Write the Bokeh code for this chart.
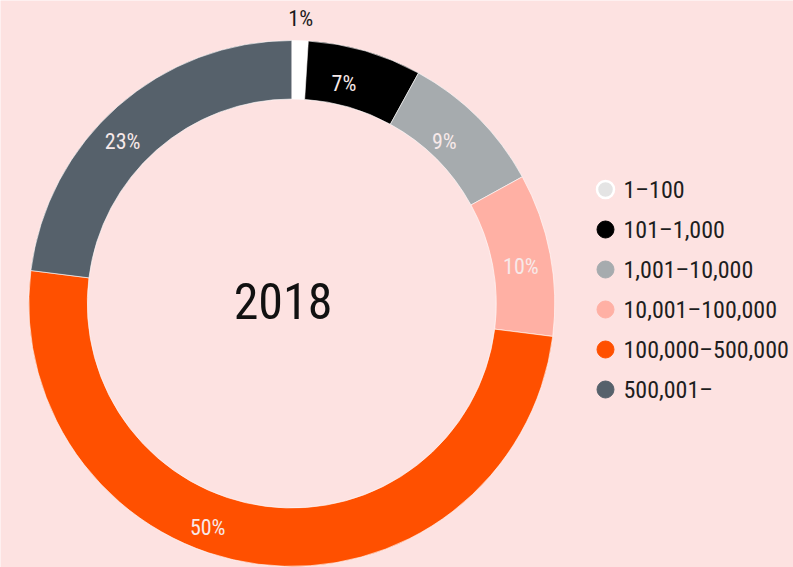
import math
from bokeh.plotting import figure
from bokeh.models import Range1d, ColumnDataSource
from bokeh.core.properties import value
from bokeh.embed import file_html
from bokeh.resources import INLINE

# ---- data ----
categories = ["1–100", "101–1,000", "1,001–10,000", "10,001–100,000", "100,000–500,000", "500,001–"]
shares = [1, 7, 9, 10, 50, 23]
slice_colors = ["#ffffff", "#000000", "#a6abae", "#ffb0a4", "#ff5000", "#56616b"]
legend_colors = ["#e4e4e4", "#000000", "#a6abae", "#ffb0a4", "#ff5000", "#56616b"]
center_title = "2018"

# ---- style / layout ----
BG = "#fde2e1"
W, H = 793, 567
CX, CY = 291.3, 264.0
R_OUT, R_IN = 263.0, 204.5
LABEL_R = 232.0
label_nudge_deg = [0, -2.85, -1.7, 1.7, 13.4, -4.9]
label_nudge_r = [0, -6, -9.5, 0, 7, 2]
FONT = "'Roboto Condensed', 'DejaVu Sans Condensed', sans-serif"

p = figure(width=W, height=H, output_backend="svg", toolbar_location=None,
           x_range=Range1d(0, W), y_range=Range1d(0, H), min_border=0)
p.axis.visible = False
p.grid.visible = False
p.outline_line_color = None
p.background_fill_color = BG
p.border_fill_color = BG

total = float(sum(shares))
starts, ends, mids = [], [], []
cum = 0.0
for s in shares:
    a0 = cum / total * 2 * math.pi
    cum += s
    a1 = cum / total * 2 * math.pi
    # clockwise from 12 o'clock -> convert to math angles
    starts.append(math.pi / 2 - a1)
    ends.append(math.pi / 2 - a0)
    mids.append((a0 + a1) / 2)

src = ColumnDataSource(dict(start=starts, end=ends, color=slice_colors))
p.annular_wedge(x=CX, y=CY, inner_radius=R_IN, outer_radius=R_OUT,
                start_angle="start", end_angle="end", direction="anticlock",
                fill_color="color", line_color="#ffffff", line_width=0.6, source=src)

# slice labels
lx, ly, lt, lc = [], [], [], []
for i, s in enumerate(shares):
    ang = mids[i] + math.radians(label_nudge_deg[i])
    if s < 3:
        r = R_OUT + 22
        col = "#1a1a1a"
    else:
        r = LABEL_R + label_nudge_r[i]
        col = "#f7e9e9"
    lx.append(CX + r * math.sin(ang))
    ly.append(CY + r * math.cos(ang))
    lt.append(f"{s}%")
    lc.append(col)
p.text(x=lx, y=ly, text=lt, text_color=lc, text_font=value(FONT),
       text_font_size="22px", text_align="center", text_baseline="middle")

# center title
p.text(x=[CX - 8.8], y=[CY + 3], text=[center_title], text_color="#111111",
       text_font=value(FONT), text_font_size="50px",
       text_align="center", text_baseline="middle")

# legend
LEG_X, LEG_Y0, LEG_DY = 605, 378, 40
leg_y = [LEG_Y0 - i * LEG_DY for i in range(len(categories))]
p.scatter(x=[LEG_X] * len(categories), y=leg_y, size=17, marker="circle",
          fill_color=legend_colors,
          line_color=["#ffffff"] + legend_colors[1:], line_width=[2.5] + [1] * 5)
p.text(x=[LEG_X + 18] * len(categories), y=leg_y, text=categories,
       text_color="#1e1e1e", text_font=value(FONT), text_font_size="24px",
       text_align="left", text_baseline="middle")

open("out.html", "w").write(file_html(p, INLINE))
